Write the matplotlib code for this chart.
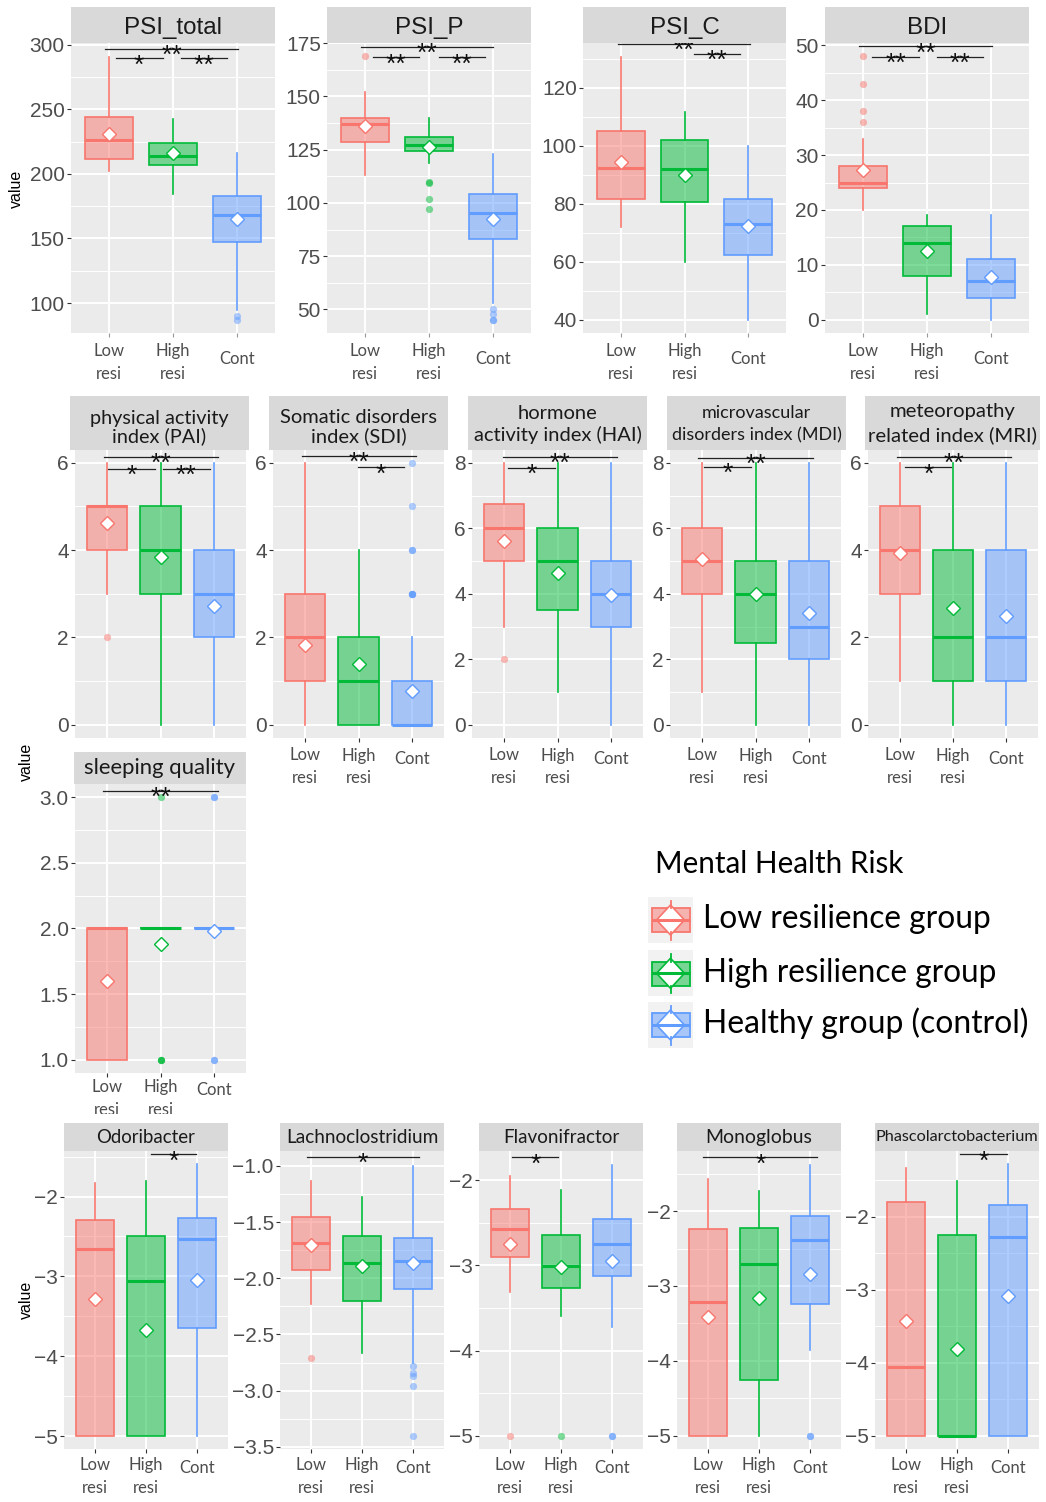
import matplotlib
matplotlib.use("Agg")
import matplotlib.pyplot as plt
from matplotlib.colors import to_rgba
from matplotlib.patches import Rectangle, Polygon
from matplotlib.ticker import FixedLocator, FuncFormatter
from matplotlib.transforms import Bbox, blended_transform_factory

plt.rcParams['font.family'] = ['Liberation Sans', 'DejaVu Sans']

# ---------------- data ----------------
groups = ["Low resilience group", "High resilience group", "Healthy group (control)"]
tick_lines = [["Low", "resi"], ["High", "resi"], ["Cont"]]
colors = ["#F8766D", "#00BA38", "#619CFF"]

# each row: whislo, q1, median, q3, whishi, mean   (Low, High, Cont)
psi_total_box = [[202.3, 211.6, 226.0, 244.3, 290.7, 231.2],
                 [184.3, 207.0, 213.9, 223.7, 242.3, 216.0],
                 [94.8, 147.4, 168.3, 183.0, 216.0, 165.4]]
psi_total_out = [[], [], [90.0, 87.0]]
psi_total_sig = [[0.94, 3.02, 296.9, "**"], [1.10, 1.84, 289.4, "*"], [2.12, 2.85, 289.4, "**"]]
psi_total_ticks = [100, 150, 200, 250, 300]

psi_p_box = [[113.1, 128.5, 137.2, 140.0, 152.0, 136.3],
             [118.9, 124.5, 127.2, 131.0, 139.9, 126.3],
             [53.1, 83.0, 95.4, 104.0, 122.8, 92.6]]
psi_p_out = [[169.0], [110.0, 109.2, 102.0, 97.0], [50.0, 48.0, 45.0, 45.0]]
psi_p_sig = [[0.94, 3.00, 173.3, "**"], [1.12, 1.84, 168.4, "**"], [2.16, 2.88, 168.4, "**"]]
psi_p_ticks = [50, 75, 100, 125, 150, 175]

psi_c_box = [[72.0, 81.8, 92.5, 105.3, 130.8, 94.6],
             [60.0, 80.6, 92.0, 102.0, 111.8, 89.9],
             [40.0, 62.3, 73.0, 81.8, 100.0, 72.4]]
psi_c_out = [[], [], []]
psi_c_sig = [[0.95, 3.03, 135.1, "**"], [2.15, 2.87, 131.7, "**"]]
psi_c_ticks = [40, 60, 80, 100, 120]

bdi_box = [[20, 24, 25, 28, 33, 27.3],
           [1, 8, 14, 17, 19, 12.6],
           [0, 4, 7, 11, 19, 7.85]]
bdi_out = [[48, 43, 38, 36], [], []]
bdi_sig = [[0.94, 3.02, 49.8, "**"], [1.14, 1.87, 47.9, "**"], [2.16, 2.88, 47.9, "**"]]
bdi_ticks = [0, 10, 20, 30, 40, 50]

pai_box = [[3, 4, 5, 5, 6, 4.63],
           [0, 3, 4, 5, 6, 3.85],
           [0, 2, 3, 4, 6, 2.71]]
pai_out = [[2], [], []]
pai_sig = [[0.94, 3.08, 6.13, "**"], [1.02, 1.89, 5.86, "*"], [2.04, 2.92, 5.86, "**"]]
pai_ticks = [0, 2, 4, 6]

sdi_box = [[0, 1, 2, 3, 6, 1.83],
           [0, 0, 1, 2, 4, 1.40],
           [0, 0, 0, 1, 2, 0.77]]
sdi_out = [[], [], [3, 3, 3, 3, 4, 4, 5, 6]]
sdi_sig = [[0.94, 3.07, 6.16, "**"], [1.99, 2.86, 5.89, "*"]]
sdi_ticks = [0, 2, 4, 6]

hai_box = [[3, 5, 6, 6.75, 8, 5.62],
           [1, 3.5, 5, 6, 8, 4.64],
           [0, 3, 4, 5, 8, 3.96]]
hai_out = [[2], [], []]
hai_sig = [[0.98, 3.12, 8.18, "**"], [1.07, 1.95, 7.85, "*"]]
hai_ticks = [0, 2, 4, 6, 8]

mdi_box = [[1, 4, 5, 6, 8, 5.05],
           [0, 2.5, 4, 5, 8, 4.0],
           [0, 2, 3, 5, 8, 3.4]]
mdi_out = [[], [], []]
mdi_sig = [[0.93, 3.07, 8.14, "**"], [1.04, 1.91, 7.88, "*"]]
mdi_ticks = [0, 2, 4, 6, 8]

mri_box = [[1, 3, 4, 5, 6, 3.93],
           [0, 1, 2, 4, 6, 2.68],
           [0, 1, 2, 4, 6, 2.49]]
mri_out = [[], [], []]
mri_sig = [[0.95, 3.10, 6.13, "**"], [1.10, 1.97, 5.89, "*"]]
mri_ticks = [0, 2, 4, 6]

sleep_box = [[1, 1, 2, 2, 2, 1.60],
             [2, 2, 2, 2, 2, 1.88],
             [2, 2, 2, 2, 2, 1.98]]
sleep_out = [[], [3, 1, 1, 1], [3, 3, 1, 1]]
sleep_sig = [[0.93, 3.07, 3.046, "**"]]
sleep_ticks = [1.0, 1.5, 2.0, 2.5, 3.0]

odori_box = [[-5, -5, -2.66, -2.29, -1.825, -3.28],
             [-5, -5, -3.06, -2.49, -1.81, -3.67],
             [-5, -3.65, -2.53, -2.27, -1.595, -3.05]]
odori_out = [[], [], []]
odori_sig = [[2.09, 2.98, -1.47, "*"]]
odori_ticks = [-5, -4, -3, -2]

lachno_box = [[-2.228, -1.926, -1.69, -1.455, -1.133, -1.70],
              [-2.666, -2.2, -1.867, -1.624, -1.28, -1.893],
              [-2.754, -2.092, -1.843, -1.642, -1.0, -1.867]]
lachno_out = [[-2.71], [], [-2.78, -2.84, -2.87, -2.96, -3.4]]
lachno_sig = [[0.92, 3.12, -0.92, "*"]]
lachno_ticks = [-3.5, -3.0, -2.5, -2.0, -1.5, -1.0]

flavo_box = [[-3.316, -2.906, -2.574, -2.34, -1.953, -2.754],
             [-3.6, -3.262, -3.004, -2.645, -2.117, -3.016],
             [-3.72, -3.121, -2.754, -2.46, -1.816, -2.95]]
flavo_out = [[-5], [-5], [-5, -5]]
flavo_sig = [[1.05, 1.95, -1.73, "*"]]
flavo_ticks = [-5, -4, -3, -2]

mono_box = [[-5, -5, -3.22, -2.236, -1.577, -3.42],
            [-5, -4.26, -2.71, -2.22, -1.733, -3.156],
            [-3.86, -3.236, -2.38, -2.067, -1.378, -2.84]]
mono_out = [[], [], [-5, -5]]
mono_sig = [[0.91, 3.14, -1.28, "*"]]
mono_ticks = [-5, -4, -3, -2]

phasco_box = [[-5, -5, -4.06, -1.8, -1.338, -3.43],
              [-5, -5, -5, -2.25, -1.51, -3.81],
              [-5, -5, -2.28, -1.84, -1.283, -3.09]]
phasco_out = [[], [], []]
phasco_sig = [[2.06, 2.97, -1.147, "*"]]
phasco_ticks = [-5, -4, -3, -2]

legend_title = "Mental Health Risk"

# ---------------- figure ----------------
W, H = 1046, 1502
fig = plt.figure(figsize=(W / 100, H / 100), dpi=100)
R = fig.canvas.get_renderer()
CAL = ['Lato', 'DejaVu Sans']
ARI = ['Liberation Sans', 'DejaVu Sans']


def frect(x0, y0, x1, y1):
    return [x0 / W, 1 - y1 / H, (x1 - x0) / W, (y1 - y0) / H]


def fit(text, family, target, ref=20.0):
    t = fig.text(0, 0, text, fontsize=ref, family=family)
    w = t.get_window_extent(renderer=R).width
    t.remove()
    return ref * target / w


XT_SIZE = fit("High", CAL, 34.7)
YT_SIZE = 15.0
ROW1_SIZE = fit("PSI_total", ARI, 97.7)
STAR_SIZE = 19

ov = fig.add_axes([0, 0, 1, 1])
ov.set_xlim(0, W)
ov.set_ylim(H, 0)
ov.axis('off')


def yfmt(dec):
    return FuncFormatter(lambda v, p: f"{v:.{dec}f}".replace('-', '\u2212'))


def panel(box, out, sig, ticks, dec, rect, strip, ylim, title, tfam, tsize, tbase,
          xlab=None, cont_off=5, tickcol='#333333', clip_y=None):
    ax = fig.add_axes(frect(*rect))
    ax.set_facecolor('#EBEBEB')
    for s in ax.spines.values():
        s.set_visible(False)
    stats = [dict(whislo=b[0], q1=b[1], med=b[2], q3=b[3], whishi=b[4], mean=b[5],
                  fliers=o) for b, o in zip(box, out)]
    art = ax.bxp(stats, positions=[1, 2, 3], widths=0.75, patch_artist=True,
                 showmeans=True, showcaps=False, showfliers=True, manage_ticks=False)
    ax.set_xlim(0.4, 3.6)
    ax.set_ylim(*ylim)
    ax.set_yticks(ticks)
    step = ticks[1] - ticks[0]
    cand = [ticks[0] - step / 2] + [t + step / 2 for t in ticks]
    ax.yaxis.set_minor_locator(FixedLocator([m for m in cand if ylim[0] < m < ylim[1]]))
    ax.yaxis.set_major_formatter(yfmt(dec))
    ax.set_xticks([1, 2, 3])
    ax.set_xticklabels(["", "", ""])
    ax.grid(which='major', color='white', lw=1.4)
    ax.grid(which='minor', axis='y', color='white', lw=0.7)
    ax.set_axisbelow(True)
    ax.tick_params(which='minor', length=0)
    ax.tick_params(axis='y', which='major', length=3, width=0.8, color='#333333',
                   labelsize=YT_SIZE, labelcolor='#4D4D4D', pad=1.5)
    ax.tick_params(axis='x', which='major', length=3 if xlab is not None else 0,
                   width=0.8, color=tickcol)
    for lab in ax.get_yticklabels():
        lab.set_family(ARI)
    for i, c in enumerate(colors):
        art['boxes'][i].set(facecolor=to_rgba(c, 0.5), edgecolor=c, lw=1.2, zorder=2)
        art['medians'][i].set(color=c, lw=2.2, zorder=3, solid_capstyle='butt')
        for w in art['whiskers'][2 * i:2 * i + 2]:
            w.set(color=c, lw=1.2, zorder=2)
        art['fliers'][i].set(marker='o', markerfacecolor=to_rgba(c, 0.5),
                             markeredgecolor='none', markersize=5.2, zorder=2)
        art['means'][i].set(marker='D', markerfacecolor='white', markeredgecolor=c,
                            markersize=7, markeredgewidth=1.0, zorder=5)
    for x1, x2, y, lab in sig:
        ax.plot([x1, x2], [y, y], color='#222222', lw=0.9, clip_on=False, zorder=6)
        ax.annotate(lab, xy=((x1 + x2) / 2, y), xytext=(0, -10.2),
                    textcoords='offset points', ha='center', va='baseline',
                    fontsize=STAR_SIZE, family=ARI, color='#111111', annotation_clip=False,
                    zorder=7)
    # strip
    sx = fig.add_axes(frect(*strip))
    sx.set_facecolor('#D9D9D9')
    sx.set_xticks([])
    sx.set_yticks([])
    for s in sx.spines.values():
        s.set_visible(False)
    cx = (strip[0] + strip[2]) / 2
    for line, b in zip(title, tbase):
        fig.text(cx / W, 1 - b / H, line, ha='center', va='baseline', fontsize=tsize,
                 family=tfam, color='#1A1A1A')
    # x labels
    if xlab is not None:
        tr = blended_transform_factory(ax.transData, fig.transFigure)
        b1 = rect[3] + xlab
        for i, lines in enumerate(tick_lines):
            if len(lines) == 2:
                ys = [b1, b1 + 23]
            else:
                ys = [b1 + cont_off]
            for ln, yb in zip(lines, ys):
                t = ax.text(i + 1, 1 - yb / H, ln, transform=tr, ha='center',
                            va='baseline', fontsize=XT_SIZE, family=CAL, color='#4D4D4D',
                            clip_on=False)
                if clip_y is not None:
                    t.set_clip_on(True)
                    t.set_clip_box(Bbox.from_extents(0, H - clip_y, W, H))
    return ax


# Row 1
r1 = dict(tfam=ARI, tsize=ROW1_SIZE, tbase=[34.3], xlab=23, cont_off=8, tickcol='#999999')
panel(psi_total_box, psi_total_out, psi_total_sig, psi_total_ticks, 0,
      (71, 43, 275, 333), (71, 7, 275, 43), (76.8, 301.3), ["PSI_total"], **r1)
panel(psi_p_box, psi_p_out, psi_p_sig, psi_p_ticks, 0,
      (327, 43, 531, 333), (327, 7, 531, 43), (38.9, 175.1), ["PSI_P"], **r1)
panel(psi_c_box, psi_c_out, psi_c_sig, psi_c_ticks, 0,
      (583, 43, 786, 333), (583, 7, 786, 43), (35.5, 135.5), ["PSI_C"], **r1)
panel(bdi_box, bdi_out, bdi_sig, bdi_ticks, 0,
      (825, 43, 1029, 333), (825, 7, 1029, 43), (-2.4, 50.4), ["BDI"], **r1)

# Row 2
row2 = [
    (pai_box, pai_out, pai_sig, pai_ticks, (75, 450, 246, 738), (70, 396, 249, 450),
     (-0.3, 6.29), ["physical activity", "index (PAI)"], 139.0, [424.3, 442.0], None),
    (sdi_box, sdi_out, sdi_sig, sdi_ticks, (273, 450, 444, 738), (269, 396, 448, 450),
     (-0.3, 6.29), ["Somatic disorders", "index (SDI)"], 157.7, [423.3, 441.7], 22.5),
    (hai_box, hai_out, hai_sig, hai_ticks, (472, 450, 643, 738), (468, 396, 647, 450),
     (-0.4, 8.39), ["hormone", "activity index (HAI)"], 168.0, [419.3, 441.0], 22.5),
    (mdi_box, mdi_out, mdi_sig, mdi_ticks, (670, 450, 841, 738), (667, 396, 846, 450),
     (-0.4, 8.39), ["microvascular", "disorders index (MDI)"], 170.6, [417.5, 440.0], 22.5),
    (mri_box, mri_out, mri_sig, mri_ticks, (868, 450, 1038, 738), (865, 396, 1040, 450),
     (-0.3, 6.29), ["meteoropathy", "related index (MRI)"], 169.0, [416.7, 440.7], 22.5),
]
for bx, ot, sg, tk, rc, st, yl, ttl, tw, tb, xl in row2:
    ts = min(fit(l, CAL, tw) for l in ttl)
    panel(bx, ot, sg, tk, 0, rc, st, yl, ttl, CAL, ts, tb, xlab=xl, cont_off=4)

# Row 3
panel(sleep_box, sleep_out, sleep_sig, sleep_ticks, 1, (75, 784, 246, 1073),
      (74, 752, 246, 784), (0.9, 3.1), ["sleeping quality"], CAL,
      fit("sleeping quality", CAL, 151.3), [774.3], xlab=19.4, cont_off=3, clip_y=1114)

# Row 4
row4 = [
    (odori_box, odori_out, odori_sig, odori_ticks, 0, (64, 1151, 228, 1449),
     (-5.16, -1.43), "Odoribacter", 99.3, 1143.3),
    (lachno_box, lachno_out, lachno_sig, lachno_ticks, 1, (280, 1151, 444, 1449),
     (-3.52, -0.867), "Lachnoclostridium", 153.3, 1143.3),
    (flavo_box, flavo_out, flavo_sig, flavo_ticks, 0, (479, 1151, 643, 1449),
     (-5.156, -1.657), "Flavonifractor", 116.0, 1143.3),
    (mono_box, mono_out, mono_sig, mono_ticks, 0, (677, 1151, 841, 1449),
     (-5.18, -1.196), "Monoglobus", 106.6, 1143.3),
    (phasco_box, phasco_out, phasco_sig, phasco_ticks, 0, (875, 1151, 1039, 1449),
     (-5.18, -1.10), "Phascolarctobacterium", 163.0, 1140.7),
]
for bx, ot, sg, tk, dc, rc, yl, ttl, tw, tb in row4:
    panel(bx, ot, sg, tk, dc, rc, (rc[0], 1123, rc[2], 1151), yl, [ttl], CAL,
          fit(ttl, CAL, tw), [tb], xlab=20.7, cont_off=3)

# y-axis labels
for (x, y) in [(16.7, 189), (26, 762), (26.5, 1300)]:
    ov.text(x, y, "value", rotation=90, ha='center', va='center', fontsize=11.5,
            family=ARI, color='black')

# legend
ov.text(655, 872.7, legend_title, ha='left', va='baseline', family=CAL,
        fontsize=fit(legend_title, CAL, 248.3), color='black')
label_w = [288.3, 294.3, 325.3]
key_top = [896.7, 950.0, 1001.7]
label_base = [928.3, 981.7, 1033.3]
for g, c, kt, lb, lw_ in zip(groups, colors, key_top, label_base, label_w):
    ov.add_patch(Rectangle((647.5, kt), 45, 46, facecolor='#F2F2F2', edgecolor='none'))
    cx, cy = 670.5, kt + 23.3
    ov.plot([cx, cx], [kt + 4, kt + 11.5], color=c, lw=1.3)
    ov.plot([cx, cx], [kt + 35.5, kt + 43], color=c, lw=1.3)
    ov.add_patch(Rectangle((651.5, kt + 11.5), 38.5, 24, facecolor=to_rgba(c, 0.5),
                           edgecolor=c, lw=1.3))
    ov.plot([651.5, 690], [cy, cy], color=c, lw=2.2, solid_capstyle='butt')
    ov.add_patch(Polygon([[cx - 14, cy], [cx, cy - 15], [cx + 14, cy], [cx, cy + 15]],
                         closed=True, facecolor='white', edgecolor=c, lw=1.2))
    ov.text(703.3, lb, g, ha='left', va='baseline', family=CAL,
            fontsize=fit(g, CAL, lw_), color='black')

fig.savefig("out.png", dpi=100)
